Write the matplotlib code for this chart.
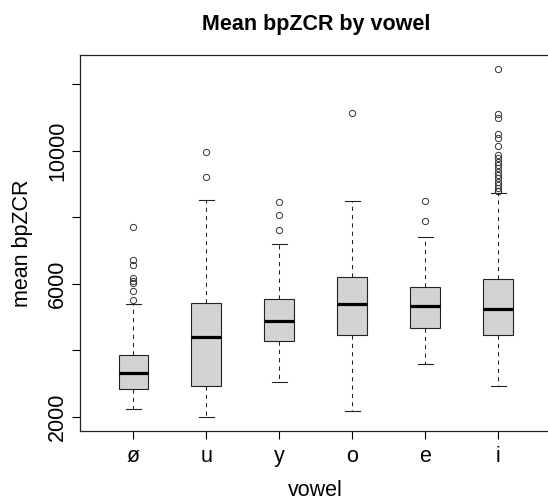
import matplotlib.pyplot as plt

plt.rcParams['font.family'] = ['Liberation Sans', 'DejaVu Sans']

# --- values ---
vowels = ['ø', 'u', 'y', 'o', 'e', 'i']
whislo = [2250, 2000, 3050, 2170, 3600, 2940]
q1 = [2850, 2920, 4270, 4450, 4670, 4450]
med = [3310, 4410, 4880, 5400, 5340, 5250]
q3 = [3860, 5420, 5530, 6210, 5890, 6150]
whishi = [5400, 8530, 7210, 8480, 7400, 8720]
fliers = [
    [5510, 5790, 6030, 6100, 6170, 6580, 6730, 7720],
    [9210, 9950],
    [7610, 8060, 8450],
    [11130],
    [7880, 8480],
    [8780, 8801, 8870, 8972, 9071, 9170, 9272, 9371, 9470, 9572, 9671,
     9770, 9872, 10130, 10370, 10502, 10982, 11120, 12452],
]
yticks = [2000, 4000, 6000, 8000, 10000, 12000]
ytick_labels = ['2000', '', '6000', '', '10000', '']

stats = []
for i, v in enumerate(vowels):
    stats.append(dict(label=v, whislo=whislo[i], q1=q1[i], med=med[i],
                      q3=q3[i], whishi=whishi[i], fliers=fliers[i]))

fig = plt.figure(figsize=(5.48, 4.98), dpi=100)
ax = fig.add_axes([79.5 / 548, 67 / 498, 472.5 / 548, 376 / 498])

ax.bxp(stats, positions=range(1, 7), widths=0.41, patch_artist=True,
       boxprops=dict(facecolor='#d3d3d3', edgecolor='#222222', linewidth=0.8),
       medianprops=dict(color='black', linewidth=2.3, solid_capstyle='butt'),
       whiskerprops=dict(color='#222222', linewidth=0.75, linestyle=(0, (4, 4))),
       capprops=dict(color='#222222', linewidth=0.8),
       capwidths=0.205,
       flierprops=dict(marker='o', markersize=4.5, markerfacecolor='none',
                       markeredgecolor='#333333', markeredgewidth=0.7))

ax.set_xlim(0.26, 6.74)
ax.set_ylim(1575, 12880)
ax.set_yticks(yticks)
ax.set_yticklabels(ytick_labels, rotation=90, va='center')
ax.tick_params(axis='y', length=5.8, width=0.8, pad=2.5, labelsize=15.5)
ax.tick_params(axis='x', length=5.8, width=0.8, pad=5, labelsize=15.5)

for s in ax.spines.values():
    s.set_linewidth(0.9)
    s.set_color('#222222')

ax.set_title('Mean bpZCR by vowel', fontsize=15.5, fontweight='bold', pad=18)
ax.set_xlabel('vowel', fontsize=15.5)
ax.set_ylabel('mean bpZCR', fontsize=15.5)
ax.xaxis.set_label_coords(0.5, -0.130)
ax.yaxis.set_label_coords(-0.0974, 0.5)

plt.savefig('out.png', dpi=100)
